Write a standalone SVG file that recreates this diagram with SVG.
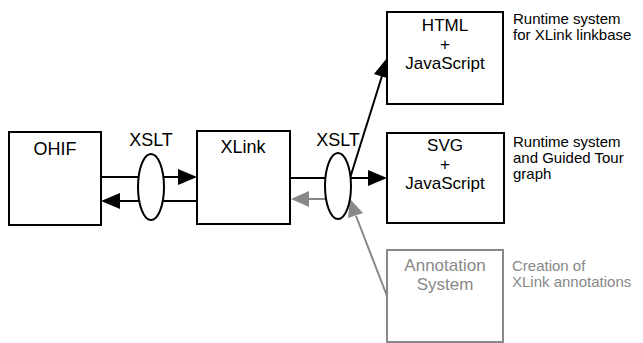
<svg xmlns="http://www.w3.org/2000/svg" width="643" height="343" viewBox="0 0 643 343">
<style>
.box{fill:#fff;stroke:#000;stroke-width:2}
.gbox{fill:#fff;stroke:#888;stroke-width:2}
.t{font-family:"Liberation Sans",Arial,sans-serif;font-size:18px;fill:#000;text-anchor:middle}
.m{font-family:"Liberation Sans",Arial,sans-serif;font-size:17px;fill:#000;text-anchor:middle}
.gt{font-family:"Liberation Sans",Arial,sans-serif;font-size:17px;fill:#888;text-anchor:middle}
.s{font-family:"Liberation Sans",Arial,sans-serif;font-size:15px;fill:#000}
.gs{font-family:"Liberation Sans",Arial,sans-serif;font-size:15px;fill:#888}
.ln{stroke:#000;stroke-width:2;fill:none}
.gln{stroke:#888;stroke-width:2;fill:none}
.ell{fill:#fff;stroke:#000;stroke-width:2}
.ah{fill:#000}
.gah{fill:#888}
</style>
<g id="connectors">
<line class="ln" x1="101" y1="177" x2="180" y2="177"/>
<path class="ah" d="M178,169 L197,177 L178,185 z"/>
<line class="ln" x1="197" y1="201" x2="118" y2="201"/>
<path class="ah" d="M120,193 L101,201 L120,209 z"/>
<line class="ln" x1="290" y1="178" x2="370" y2="178"/>
<path class="ah" d="M368,170 L387,178 L368,186 z"/>
<line class="ln" x1="350" y1="178" x2="382" y2="76"/>
<path class="ah" d="M374,74 L387,58 L390,79 z"/>
<line class="gln" x1="325" y1="199" x2="306" y2="199"/>
<path class="gah" d="M309,191 L291,199 L309,207 z"/>
<line class="gln" x1="387" y1="296" x2="356" y2="216"/>
<path class="gah" d="M348,218 L350,199 L363,213 z"/>
</g>
<g id="xslt1">
<ellipse class="ell" cx="151" cy="187" rx="13" ry="33"/>
<text class="t" x="151" y="146">XSLT</text>
</g>
<g id="xslt2">
<ellipse class="ell" cx="338" cy="186" rx="13" ry="33"/>
<text class="t" x="338" y="146">XSLT</text>
</g>
<g id="ohif">
<rect class="box" x="9" y="132" width="92" height="93"/>
<text class="t" x="55" y="155">OHIF</text>
</g>
<g id="xlink">
<rect class="box" x="197" y="131" width="93" height="93"/>
<text class="t" x="243" y="153">XLink</text>
</g>
<g id="html">
<rect class="box" x="387" y="12" width="116" height="92"/>
<text class="m" x="445" y="31">HTML</text>
<text class="m" x="445" y="50">+</text>
<text class="m" x="445" y="69">JavaScript</text>
<text class="s" x="513" y="24">Runtime system</text>
<text class="s" x="513" y="40">for XLink linkbase</text>
</g>
<g id="svg">
<rect class="box" x="387" y="133" width="117" height="90"/>
<text class="m" x="445" y="151">SVG</text>
<text class="m" x="445" y="170">+</text>
<text class="m" x="445" y="189">JavaScript</text>
<text class="s" x="513" y="147">Runtime system</text>
<text class="s" x="513" y="163">and Guided Tour</text>
<text class="s" x="513" y="179">graph</text>
</g>
<g id="annotation">
<rect class="gbox" x="387" y="250" width="116" height="92"/>
<text class="gt" x="445" y="271">Annotation</text>
<text class="gt" x="445" y="290">System</text>
<text class="gs" x="512" y="271">Creation of</text>
<text class="gs" x="512" y="287">XLink annotations</text>
</g>
</svg>
